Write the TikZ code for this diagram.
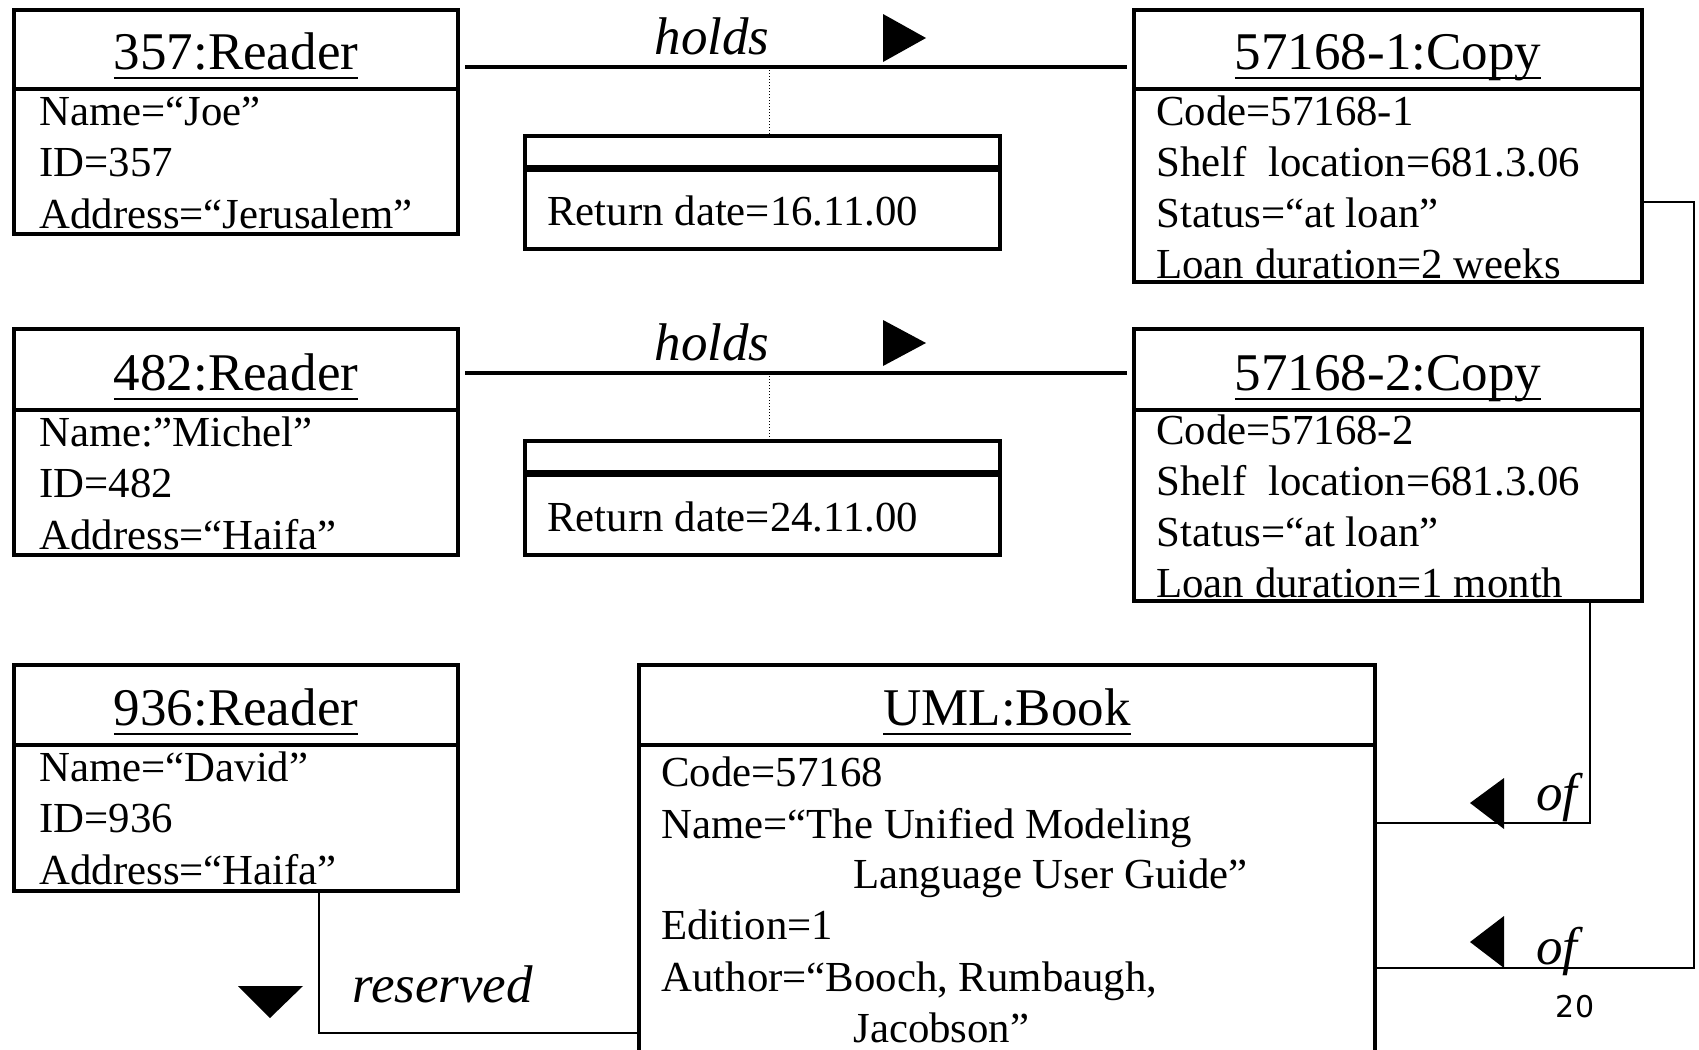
\documentclass[tikz,border=0pt]{standalone}
\usepackage{fontspec}
\setmainfont{Liberation Serif}
\newfontfamily\pagenumfont{DejaVu Sans}
\usetikzlibrary{fit}
% underlined object name with the rule at a fixed depth below the baseline
\newcommand\objname[1]{\setbox0\hbox{#1}\rlap{\rule[-5pt]{\wd0}{1pt}}\box0}

\tikzset{
  objbox/.style={draw, line width=2pt, inner sep=0pt},
  hdr/.style={font=\fontsize{26.5}{30}\selectfont, anchor=base, inner sep=0pt},
  attr/.style={font=\fontsize{21.4}{25}\selectfont, anchor=base west, inner sep=0pt},
  rolelbl/.style={font=\fontsize{26.5}{30}\selectfont\itshape, anchor=base, inner sep=0pt},
  assoc/.style={line width=2pt},
  wire/.style={line width=1pt},
  dotlink/.style={line width=0.5pt, densely dotted},
  divider/.style={line width=2pt},
  thickdiv/.style={line width=3.5pt},
  headmark/.style={fill=black},
}

\begin{document}
\begin{tikzpicture}[x=0.5pt,y=-0.5pt]
\clip (0,0) rectangle (1699,1050);
\fill[white] (0,0) rectangle (1699,1050);

% ---------- readers ----------
\node[objbox, fit={(14,10) (458,234)}] (r1) {};
\draw[divider] (r1.west |- 0,89) -- (r1.east |- 0,89);
\node[hdr] (r1t) at (236,69) {\objname{357:Reader}};
\foreach \t [count=\i from 0] in {Name=“Joe”, ID=357, Address=“Jerusalem”}
  \node[attr] (r1a\i) at (39,{125+51.5*\i}) {\t};

\node[objbox, fit={(14,329) (458,555)}] (r2) {};
\draw[divider] (r2.west |- 0,410) -- (r2.east |- 0,410);
\node[hdr] (r2t) at (236,390) {\objname{482:Reader}};
\foreach \t [count=\i from 0] in {Name:”Michel”, ID=482, Address=“Haifa”}
  \node[attr] (r2a\i) at (39,{446+51.5*\i}) {\t};

\node[objbox, fit={(14,665) (458,891)}] (r3) {};
\draw[divider] (r3.west |- 0,745) -- (r3.east |- 0,745);
\node[hdr] (r3t) at (236,725) {\objname{936:Reader}};
\foreach \t [count=\i from 0] in {Name=“David”, ID=936, Address=“Haifa”}
  \node[attr] (r3a\i) at (39,{781+51.5*\i}) {\t};

% ---------- copies ----------
\node[objbox, fit={(1134,10) (1642,282)}] (c1) {};
\draw[divider] (c1.west |- 0,89) -- (c1.east |- 0,89);
\node[hdr] (c1t) at (1388,69) {\objname{57168-1:Copy}};
\foreach \t [count=\i from 0] in {Code=57168-1, Shelf\ \ location=681.3.06, Status=“at loan”, Loan duration=2 weeks}
  \node[attr] (c1a\i) at (1156,{125+51*\i}) {\t};

\node[objbox, fit={(1134,329) (1642,601)}] (c2) {};
\draw[divider] (c2.west |- 0,410) -- (c2.east |- 0,410);
\node[hdr] (c2t) at (1388,390) {\objname{57168-2:Copy}};
\foreach \t [count=\i from 0] in {Code=57168-2, Shelf\ \ location=681.3.06, Status=“at loan”, Loan duration=1 month}
  \node[attr] (c2a\i) at (1156,{444+51*\i}) {\t};

% ---------- book ----------
\node[objbox, fit={(639,665) (1375,1070)}] (bk) {};
\draw[divider] (bk.west |- 0,745) -- (bk.east |- 0,745);
\node[hdr] (bkt) at (1007,725) {\objname{UML:Book}};
\node[attr] (bka0) at (661,786) {Code=57168};
\node[attr] (bka1) at (661,838) {Name=“The Unified Modeling};
\node[attr] (bka2) at (853,888) {Language User Guide”};
\node[attr] (bka3) at (661,939) {Edition=1};
\node[attr] (bka4) at (661,991) {Author=“Booch, Rumbaugh,};
\node[attr] (bka5) at (853,1042) {Jacobson”};

% ---------- link attribute boxes ----------
\node[objbox, fit={(525,136) (1000,249)}] (l1) {};
\draw[thickdiv] (l1.west |- 0,168) -- (l1.east |- 0,168);
\node[attr] (l1a) at (547,225) {Return date=16.11.00};

\node[objbox, fit={(525,441) (1000,555)}] (l2) {};
\draw[thickdiv] (l2.west |- 0,473) -- (l2.east |- 0,473);
\node[attr] (l2a) at (547,531) {Return date=24.11.00};

% ---------- holds associations ----------
\draw[assoc, shorten <=2.5pt, shorten >=2.5pt] (r1.east |- 0,67) -- (c1.west |- 0,67);
\node[rolelbl] (h1) at (712,54) {holds};
\fill[headmark] (883,14) -- (926,38) -- (883,62) -- cycle;
\draw[dotlink] (769,70) -- (l1.north -| 769,0);

\draw[assoc, shorten <=2.5pt, shorten >=2.5pt] (r2.east |- 0,373) -- (c2.west |- 0,373);
\node[rolelbl] (h2) at (712,360) {holds};
\fill[headmark] (883,320) -- (926,343) -- (883,366) -- cycle;
\draw[dotlink] (769,376) -- (l2.north -| 769,0);

% ---------- of associations ----------
\coordinate (of1turn) at (1694,968);
\draw[wire] (c1.east |- 0,202) -| (of1turn) -- (bk.east |- of1turn);
\coordinate (of2turn) at (1590,823);
\draw[wire] (c2.south -| of2turn) -- (of2turn) -- (bk.east |- of2turn);
\fill[headmark] (1504,778) -- (1470,803) -- (1504,829) -- cycle;
\fill[headmark] (1504,916) -- (1470,942) -- (1504,968) -- cycle;
\node[rolelbl] (of2) at (1557,810) {of};
\node[rolelbl] (of1) at (1557,964) {of};

% ---------- reserved association ----------
\coordinate (rsvturn) at (319,1033);
\draw[wire] (r3.south -| rsvturn) -- (rsvturn) -- (bk.west |- rsvturn);
\fill[headmark] (238,986) -- (303,986) -- (270,1018) -- cycle;
\node[rolelbl, anchor=base west] (rsv) at (352,1002) {reserved};

% ---------- page number ----------
\node[font=\pagenumfont\fontsize{15}{17}\selectfont, anchor=base, inner sep=0pt] (pg) at (1575,1017) {20};
\end{tikzpicture}
\end{document}
